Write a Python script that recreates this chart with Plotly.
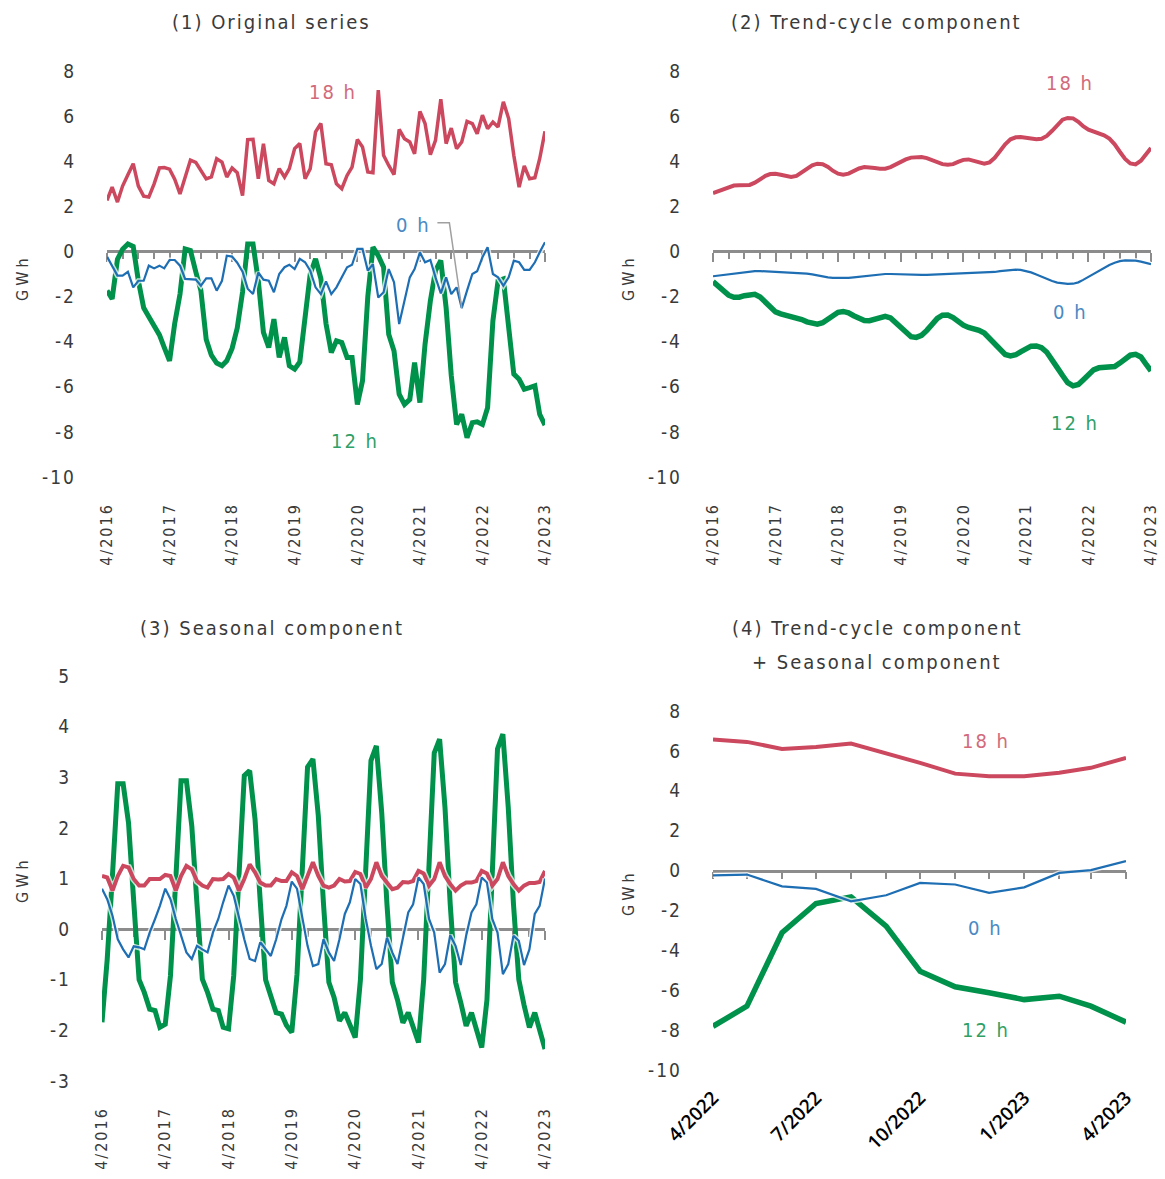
import pandas as pd
import plotly.graph_objects as go

# ---------------------------------------------------------------- data
months = pd.date_range("2016-04-01", periods=85, freq="MS")
recent = pd.date_range("2022-04-01", periods=13, freq="MS")

orig_18h = [2.26, 2.85, 2.19, 2.9, 3.4, 3.89, 2.9, 2.45, 2.41, 3.0,
            3.7, 3.72, 3.65, 3.2, 2.55, 3.3, 4.05, 3.95, 3.6, 3.22,
            3.3, 4.11, 3.96, 3.3, 3.7, 3.49, 2.48, 4.96, 4.97, 3.22,
            4.78, 3.15, 3.0, 3.67, 3.3, 3.67, 4.56, 4.78, 3.22, 3.67,
            5.3, 5.67, 3.89, 3.84, 3.0, 2.78, 3.37, 3.74, 4.96, 4.63,
            3.52, 3.49, 7.15, 4.26, 3.81, 3.41, 5.41, 5.0, 4.85, 4.33,
            6.21, 5.67, 4.29, 4.93, 6.75, 4.78, 5.47, 4.56, 4.85, 5.77,
            5.67, 5.22, 6.04, 5.44, 5.74, 5.52, 6.63, 5.89, 4.26, 2.85,
            3.79, 3.22, 3.27, 4.11, 5.33]
orig_12h = [-1.74, -2.1, -0.35, 0.1, 0.33, 0.22, -1.3, -2.5, -2.9, -3.3,
            -3.7, -4.25, -4.85, -3.2, -1.89, 0.11, 0.04, -0.9, -1.74, -3.9,
            -4.6, -4.95, -5.07, -4.85, -4.3, -3.4, -1.8, 0.33, 0.33, -1.3,
            -3.59, -4.26, -3.0, -4.7, -3.81, -5.07, -5.22, -4.9, -3.0, -1.0,
            -0.33, -1.2, -3.2, -4.48, -3.96, -4.04, -4.7, -4.7, -6.78, -5.74,
            -2.0, 0.19, -0.19, -0.7, -3.67, -4.41, -6.33, -6.78, -6.56, -4.93,
            -6.7, -4.11, -2.19, -0.85, -0.4, -2.5, -5.5, -7.67, -7.22, -8.26,
            -7.59, -7.55, -7.67, -6.93, -3.07, -1.3, -1.22, -3.52, -5.44, -5.67,
            -6.11, -6.04, -5.96, -7.22, -7.7]
orig_0h = [-0.23, -0.63, -1.07, -1.07, -0.9, -1.59, -1.3, -1.3, -0.63, -0.75,
           -0.63, -0.75, -0.38, -0.38, -0.63, -1.22, -1.25, -1.25, -1.52, -1.19,
           -1.19, -1.74, -1.3, -0.19, -0.23, -0.5, -0.9, -1.65, -1.89, -0.93,
           -1.25, -1.3, -1.81, -1.0, -0.7, -0.59, -0.78, -0.33, -0.48, -0.85,
           -1.59, -1.89, -1.33, -1.89, -1.59, -1.15, -0.7, -0.59, 0.11, 0.11,
           -0.85, -0.56, -2.04, -1.81, -0.78, -1.37, -3.22, -2.19, -1.15, -0.78,
           -0.04, -0.48, -0.38, -1.15, -1.86, -1.15, -1.89, -1.59, -2.51, -1.74,
           -1.0, -0.88, -0.26, 0.19, -1.0, -1.15, -1.52, -1.15, -0.41, -0.48,
           -0.82, -0.82, -0.48, -0.04, 0.41]

trend_18h = [2.59, 2.68, 2.77, 2.86, 2.92, 2.93, 2.92, 2.95, 3.05, 3.2,
             3.35, 3.43, 3.44, 3.4, 3.33, 3.3, 3.35, 3.5, 3.68, 3.82,
             3.89, 3.87, 3.75, 3.58, 3.45, 3.4, 3.45, 3.57, 3.68, 3.74,
             3.74, 3.7, 3.67, 3.67, 3.74, 3.85, 3.97, 4.08, 4.16, 4.19,
             4.19, 4.14, 4.05, 3.95, 3.87, 3.84, 3.87, 3.97, 4.06, 4.08,
             4.03, 3.94, 3.89, 3.95, 4.15, 4.45, 4.75, 4.97, 5.06, 5.07,
             5.04, 5.0, 4.98, 5.0, 5.12, 5.35, 5.62, 5.84, 5.92, 5.9,
             5.75, 5.55, 5.4, 5.32, 5.25, 5.15, 5.0, 4.75, 4.42, 4.1,
             3.9, 3.86, 4.02, 4.3, 4.59]
trend_0h = [-1.1, -1.07, -1.04, -1.01, -0.97, -0.93, -0.9, -0.88, -0.87, -0.87,
            -0.88, -0.9, -0.92, -0.93, -0.93, -0.94, -0.95, -0.96, -0.98, -1.02,
            -1.07, -1.11, -1.15, -1.17, -1.18, -1.18, -1.17, -1.15, -1.12, -1.09,
            -1.06, -1.03, -1.01, -1.0, -1.0, -1.01, -1.02, -1.03, -1.04, -1.04,
            -1.04, -1.04, -1.03, -1.02, -1.01, -1.0, -0.99, -0.98, -0.97, -0.97,
            -0.96, -0.96, -0.96, -0.94, -0.91, -0.87, -0.84, -0.82, -0.81, -0.82,
            -0.86, -0.93, -1.02, -1.12, -1.22, -1.31, -1.38, -1.42, -1.44, -1.43,
            -1.37, -1.26, -1.12, -0.98, -0.85, -0.72, -0.6, -0.5, -0.43, -0.4,
            -0.39, -0.41, -0.45, -0.5, -0.56]
trend_12h = [-1.34, -1.55, -1.76, -1.94, -2.03, -2.03, -1.96, -1.9, -1.9, -2.02,
             -2.25, -2.5, -2.68, -2.77, -2.82, -2.86, -2.93, -3.02, -3.12, -3.2,
             -3.22, -3.16, -3.02, -2.84, -2.7, -2.66, -2.72, -2.85, -2.98, -3.06,
             -3.07, -3.02, -2.94, -2.88, -2.95, -3.15, -3.4, -3.63, -3.78, -3.81,
             -3.72, -3.5, -3.22, -2.97, -2.83, -2.82, -2.93, -3.1, -3.27, -3.37,
             -3.42, -3.5, -3.62, -3.85, -4.1, -4.38, -4.57, -4.63, -4.58, -4.45,
             -4.3, -4.2, -4.19, -4.27, -4.47, -4.78, -5.15, -5.5, -5.82, -5.96,
             -5.9, -5.7, -5.45, -5.25, -5.16, -5.15, -5.15, -5.1, -4.95, -4.75,
             -4.6, -4.56, -4.68, -4.98, -5.3]

seas_18h = [1.05, 1.02, 0.76, 1.05, 1.25, 1.22, 0.99, 0.86, 0.86, 0.99,
            0.99, 0.99, 1.07, 1.05, 0.76, 1.05, 1.25, 1.18, 0.95, 0.86,
            0.82, 0.99, 0.98, 0.99, 1.09, 1.02, 0.76, 0.99, 1.28, 1.12,
            0.92, 0.86, 0.86, 0.99, 0.95, 0.95, 1.12, 1.05, 0.79, 1.05,
            1.32, 1.05, 0.86, 0.82, 0.86, 0.99, 0.94, 0.95, 1.13, 1.09,
            0.82, 0.99, 1.32, 1.05, 0.92, 0.79, 0.82, 0.93, 0.92, 0.95,
            1.15, 1.1, 0.86, 0.99, 1.32, 1.05, 0.89, 0.76, 0.86, 0.92,
            0.92, 0.95, 1.15, 1.1, 0.86, 0.99, 1.32, 1.05, 0.89, 0.76,
            0.86, 0.91, 0.91, 0.93, 1.15]
seas_0h = [0.8, 0.59, 0.26, -0.2, -0.4, -0.56, -0.34, -0.36, -0.4, -0.07,
           0.2, 0.46, 0.8, 0.59, 0.2, -0.13, -0.46, -0.59, -0.33, -0.4,
           -0.46, -0.07, 0.2, 0.53, 0.86, 0.66, 0.2, -0.2, -0.59, -0.63,
           -0.26, -0.4, -0.53, -0.2, 0.2, 0.46, 0.94, 0.8, 0.2, -0.33,
           -0.73, -0.69, -0.2, -0.46, -0.63, -0.2, 0.3, 0.53, 0.99, 0.89,
           0.2, -0.33, -0.79, -0.69, -0.17, -0.46, -0.69, -0.2, 0.33, 0.49,
           1.02, 0.89, 0.2, -0.07, -0.86, -0.69, -0.12, -0.33, -0.71, -0.13,
           0.33, 0.49, 1.02, 0.92, 0.2, -0.07, -0.89, -0.69, -0.13, -0.23,
           -0.71, -0.4, 0.3, 0.46, 1.0]
seas_12h = [-1.84, -0.6, 1.1, 2.87, 2.87, 2.1, 0.55, -1.0, -1.25, -1.58,
            -1.61, -1.94, -1.88, -0.92, 1.0, 2.93, 2.93, 2.04, 0.5, -0.99,
            -1.25, -1.58, -1.61, -1.94, -1.97, -0.92, 1.1, 3.03, 3.13, 2.17,
            0.55, -1.0, -1.32, -1.65, -1.68, -1.9, -2.04, -0.9, 1.2, 3.2,
            3.36, 2.24, 0.5, -1.05, -1.35, -1.81, -1.65, -1.9, -2.14, -1.0,
            1.2, 3.33, 3.62, 2.3, 0.5, -1.05, -1.4, -1.85, -1.65, -1.95,
            -2.24, -1.0, 1.3, 3.48, 3.75, 2.4, 0.5, -1.05, -1.45, -1.91,
            -1.65, -2.0, -2.34, -1.4, 1.2, 3.56, 3.85, 2.4, 0.5, -1.0,
            -1.5, -1.94, -1.65, -2.0, -2.37]

comb_18h = [6.57, 6.45, 6.1, 6.2, 6.37, 5.9, 5.4, 4.86, 4.73, 4.73, 4.9, 5.15, 5.65]
comb_0h = [-0.24, -0.2, -0.79, -0.92, -1.54, -1.24, -0.62, -0.7, -1.12, -0.84, -0.12, 0.02, 0.47]
comb_12h = [-7.81, -6.8, -3.12, -1.65, -1.32, -2.79, -5.05, -5.83, -6.13, -6.47, -6.3, -6.8, -7.6]

year_ticks = list(months[::12])
year_labels = [f"{d.month}/{d.year}" for d in year_ticks]
quarter_ticks = list(months[::3])
recent_ticks = list(recent[::3])
recent_labels = ["4/2022", "7/2022", "10/2022", "1/2023", "4/2023"]

# ---------------------------------------------------------------- style
W, H = 1165, 1179
RED, BLUE, GREEN = "#cc485e", "#1e6eb4", "#00914b"
RED_T, BLUE_T, GREEN_T = "#d26a7b", "#4a8ac4", "#2fa066"
GRAY = "#8c8c8c"
TXT = "#3a3a3a"
FONT = "DejaVu Sans Condensed, DejaVu Sans, sans-serif"


def spaced(s, px=3):
    return f'<span style="letter-spacing:{px}px;font-stretch:condensed">{s}</span>'


def xdom(left, right):
    return [left / W, right / W]


def ydom(top, bottom):
    return [1 - bottom / H, 1 - top / H]


def tfont(size, color=TXT):
    return dict(family=FONT, size=size, color=color)


panels = [
    # (x px, y px, y range, y ticks)
    dict(x=(107, 545), y=(71, 477), yr=(-10, 8), yt=list(range(-10, 9, 2))),
    dict(x=(713, 1151), y=(71, 477), yr=(-10, 8), yt=list(range(-10, 9, 2))),
    dict(x=(102, 545), y=(676, 1081), yr=(-3, 5), yt=list(range(-3, 6))),
    dict(x=(713, 1126), y=(711, 1070), yr=(-10, 8), yt=list(range(-10, 9, 2))),
]

fig = go.Figure()
layout = dict(
    width=W, height=H, margin=dict(l=0, r=0, t=0, b=0, autoexpand=False),
    paper_bgcolor="white", plot_bgcolor="white", showlegend=False,
    font=tfont(16),
)

for i, p in enumerate(panels, start=1):
    xd, yd = xdom(*p["x"]), ydom(*p["y"])
    is_recent = i == 4
    xr = [recent[0], recent[-1]] if is_recent else [months[0], months[-1]]
    sfx = "" if i == 1 else str(i)
    # bottom axis carrying the date labels
    xa = dict(domain=xd, anchor="y" + sfx, range=xr, showgrid=False, zeroline=False,
              showline=False, ticks="", fixedrange=True, automargin=False)
    if is_recent:
        xa.update(tickvals=recent_ticks, ticktext=recent_labels, tickangle=-45,
                  tickfont=dict(family="Open Sans, sans-serif", size=19, color="black", weight=600),
                  ticklabelstandoff=12)
    else:
        xa.update(tickvals=year_ticks, ticktext=[spaced(t, 2) for t in year_labels],
                  tickangle=-90, tickfont=tfont(16), ticklabelstandoff=22)
    layout["xaxis" + sfx] = xa
    ya = dict(domain=yd, anchor="x" + sfx, range=list(p["yr"]), showgrid=False,
              zeroline=False, showline=False, ticks="", tickvals=p["yt"],
              ticktext=[spaced(str(v), 2) for v in p["yt"]], automargin=False,
              tickfont=tfont(19), ticklabelstandoff=30, fixedrange=True)
    layout["yaxis" + sfx] = ya
    # zero line with tick marks, placed at y = 0 of this panel
    lo, hi = p["yr"]
    zpos = yd[0] + (0 - lo) / (hi - lo) * (yd[1] - yd[0])
    za = dict(overlaying="x" + sfx, anchor="free", position=zpos, side="bottom",
              range=xr, showline=True, linecolor=GRAY, linewidth=2.5,
              showgrid=False, zeroline=False, showticklabels=False, automargin=False,
              ticks="outside", tickcolor=GRAY, tickwidth=2, layer="below traces",
              fixedrange=True)
    if is_recent:
        za.update(tickvals=list(recent), ticklen=7)
    else:
        za.update(tickvals=year_ticks, ticklen=9,
                  minor=dict(tickmode="array", tickvals=quarter_ticks, ticks="outside",
                             ticklen=6, tickcolor=GRAY, tickwidth=2))
    layout["xaxis" + str(i + 4)] = za
    fig.add_trace(go.Scatter(x=xr, y=[0, 0], mode="lines", line=dict(width=0),
                             xaxis="x" + str(i + 4), yaxis="y" + sfx, hoverinfo="skip"))


def add_series(xs, ys, color, width, ax, halo=True):
    xa, ya = ("x", "y") if ax == 1 else ("x" + str(ax), "y" + str(ax))
    if halo:
        fig.add_trace(go.Scatter(x=xs, y=ys, mode="lines", xaxis=xa, yaxis=ya,
                                 line=dict(color="rgba(255,255,255,0.75)", width=width + 3),
                                 hoverinfo="skip"))
    fig.add_trace(go.Scatter(x=xs, y=ys, mode="lines", xaxis=xa, yaxis=ya,
                             line=dict(color=color, width=width)))


# (1) original series
add_series(months, orig_12h, GREEN, 5, 1, halo=False)
add_series(months, orig_18h, RED, 3.5, 1)
add_series(months, orig_0h, BLUE, 2.2, 1)
# leader from the "0 h" label to the deepest dip of the 0 h series
fig.add_trace(go.Scatter(x=["2021-07-12", "2021-09-20", months[68]],
                         y=[1.27, 1.27, orig_0h[68]], mode="lines",
                         line=dict(color="#a0a0a0", width=1.5), hoverinfo="skip"))

# (2) trend-cycle component
add_series(months, trend_12h, GREEN, 5.5, 2, halo=False)
add_series(months, trend_18h, RED, 4, 2)
add_series(months, trend_0h, BLUE, 2.2, 2)

# (3) seasonal component
add_series(months, seas_12h, GREEN, 5, 3, halo=False)
add_series(months, seas_18h, RED, 4, 3)
add_series(months, seas_0h, BLUE, 2.2, 3)

# (4) trend-cycle + seasonal, last 13 months
add_series(recent, comb_12h, GREEN, 5.5, 4, halo=False)
add_series(recent, comb_18h, RED, 4, 4)
add_series(recent, comb_0h, BLUE, 2.2, 4)

fig.update_layout(**layout)

# ---------------------------------------------------------------- text
ann = []


def title(text, x, y):
    ann.append(dict(text=spaced(text, 2), x=x / W, y=1 - y / H, xref="paper", yref="paper",
                    showarrow=False, xanchor="center", yanchor="middle", font=tfont(20)))


title("(1) Original series", 271, 22)
title("(2) Trend-cycle component", 876, 22)
title("(3) Seasonal component", 272, 628)
title("(4) Trend-cycle component", 877, 628)
title("+ Seasonal component", 877, 662)

for gx, gy in [(22, 278), (628, 278), (22, 880), (628, 893)]:
    ann.append(dict(text=spaced("GWh", 4), x=gx / W, y=1 - gy / H, xref="paper", yref="paper",
                    showarrow=False, textangle=-90, xanchor="center", yanchor="middle",
                    font=tfont(16)))


def series_label(text, color, x, y, ax):
    xr, yr = ("x", "y") if ax == 1 else ("x" + str(ax), "y" + str(ax))
    ann.append(dict(text=spaced(text, 2), x=x, y=y, xref=xr, yref=yr, showarrow=False,
                    xanchor="center", yanchor="middle", font=tfont(20, color)))


series_label("18 h", RED_T, "2019-11-10", 7.09, 1)
series_label("0 h", BLUE_T, "2021-02-20", 1.18, 1)
series_label("12 h", GREEN_T, "2020-03-20", -8.42, 1)
series_label("18 h", RED_T, "2021-12-15", 7.49, 2)
series_label("0 h", BLUE_T, "2021-12-15", -2.69, 2)
series_label("12 h", GREEN_T, "2022-01-12", -7.62, 2)
series_label("18 h", RED_T, "2022-11-28", 6.52, 4)
series_label("0 h", BLUE_T, "2022-11-28", -2.86, 4)
series_label("12 h", GREEN_T, "2022-11-28", -7.97, 4)

fig.update_layout(annotations=ann)
fig.write_html("out.html")
